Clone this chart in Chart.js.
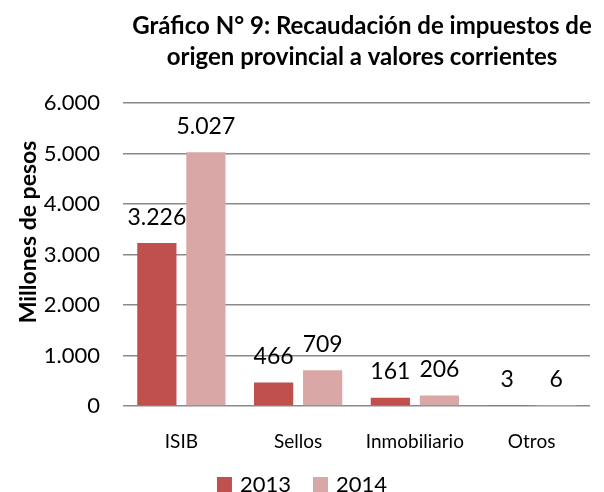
<!DOCTYPE html>
<html><head><meta charset="utf-8">
<script src="https://cdn.jsdelivr.net/npm/chart.js@4/dist/chart.umd.min.js"></script>
<style>html,body{margin:0;padding:0;background:#fff}#w{width:604px;height:492px}</style>
</head><body><div id="w"><canvas id="c"></canvas></div>
<script>
const categories = ['ISIB', 'Sellos', 'Inmobiliario', 'Otros'];
const values2013 = [3226, 466, 161, 3];
const values2014 = [5027, 709, 206, 6];
const seriesNames = ['2013', '2014'];
const titleLines = ['Gráfico N° 9: Recaudación de impuestos de', 'origen provincial a valores corrientes'];
const yTitle = 'Millones de pesos';
const FONT = 'Lato, "Open Sans", sans-serif';
const fmt = v => v.toLocaleString('de-DE');

const decorPlugin = {
  id: 'decor',
  afterDraw(chart) {
    const ctx = chart.ctx;
    ctx.save();
    // title
    ctx.fillStyle = '#000';
    ctx.textAlign = 'center';
    ctx.textBaseline = 'middle';
    ctx.font = 'bold 24px ' + FONT;
    ctx.fillText(titleLines[0], 362, 26);
    ctx.fillText(titleLines[1], 362, 57);
    // y title
    ctx.save();
    ctx.translate(29, 232);
    ctx.rotate(-Math.PI / 2);
    ctx.font = 'bold 23px ' + FONT;
    ctx.fillText(yTitle, 0, 0);
    ctx.restore();
    // data labels
    ctx.font = '23px ' + FONT;
    chart.data.datasets.forEach((ds, i) => {
      chart.getDatasetMeta(i).data.forEach((bar, j) => {
        ctx.fillText(fmt(ds.data[j]), bar.x, bar.y - 26);
      });
    });
    // legend
    ctx.font = '22px ' + FONT;
    ctx.textAlign = 'left';
    const box = 15, gap = 8, spacing = 22;
    const widths = chart.data.datasets.map(ds => ctx.measureText(ds.label).width);
    const total = widths.reduce((a, w) => a + box + gap + w, 0) + spacing * (widths.length - 1);
    let x = 302 - total / 2;
    const y = 485;
    chart.data.datasets.forEach((ds, i) => {
      ctx.fillStyle = ds.backgroundColor;
      ctx.fillRect(x, y - 8, box, box);
      ctx.fillStyle = '#000';
      ctx.fillText(ds.label, x + box + gap, y);
      x += box + gap + widths[i] + spacing;
    });
    ctx.restore();
  }
};

new Chart(document.getElementById('c'), {
  type: 'bar',
  data: {
    labels: categories,
    datasets: [
      { label: seriesNames[0], data: values2013, backgroundColor: '#C0504D' },
      { label: seriesNames[1], data: values2014, backgroundColor: '#D9A7A6' }
    ]
  },
  options: {
    responsive: true, maintainAspectRatio: false, animation: false,
    layout: { padding: { left: 0, right: 14, top: 103, bottom: 0 } },
    categoryPercentage: 0.84, barPercentage: 0.8,
    plugins: {
      title: { display: false },
      legend: { display: false },
      tooltip: { enabled: false }
    },
    scales: {
      x: {
        grid: { display: false }, border: { display: false },
        ticks: { font: { family: FONT, size: 19 }, color: '#000', padding: 16 },
        afterFit: s => { s.height = 86; }
      },
      y: {
        min: 0, max: 6000,
        ticks: { stepSize: 1000, font: { family: FONT, size: 22 }, color: '#000', padding: 23, callback: v => fmt(v) },
        grid: { color: '#8a8a8a', lineWidth: 1.6, drawTicks: false }, border: { display: false },
        afterFit: s => { s.width = 123; }
      }
    }
  },
  plugins: [decorPlugin]
});
</script></body></html>
